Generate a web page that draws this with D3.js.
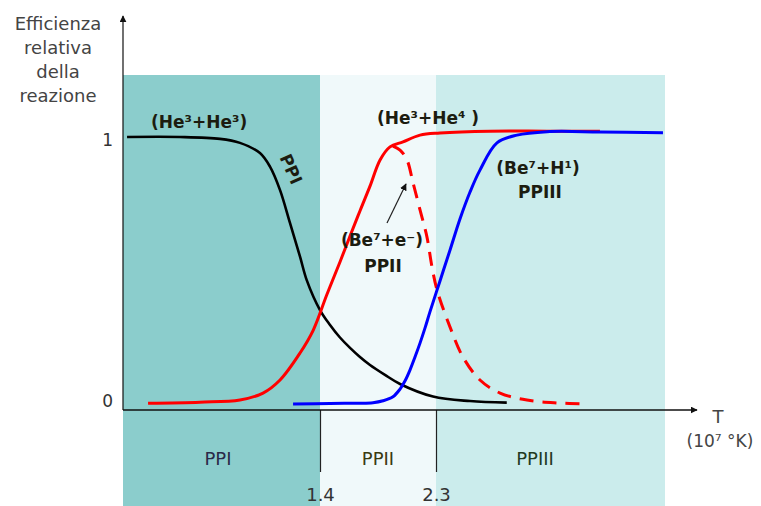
<!DOCTYPE html>
<html>
<head>
<meta charset="utf-8">
<script src="https://cdn.jsdelivr.net/npm/d3@7"></script>
<style>
    body { margin: 0; background: #fff; }
    text { font-family: "DejaVu Sans", Verdana, sans-serif; }
    .note { font-weight: bold; fill: #1c1c10; font-size: 17px; }
</style>
</head>
<body>
<div id="chart"></div>
<script>
// temperature bands (10^7 K)
const bandNames = ["PPI", "PPII", "PPIII"];
const bandLimits = [1.4, 2.3];

// PPI  (He3+He3)
const ppiT = [-0.097, 0.314, 0.624, 0.779, 0.934, 1.012, 1.090, 1.167, 1.245, 1.297, 1.400, 1.478, 1.555, 1.633, 1.710, 1.788, 1.904, 2.021, 2.277, 2.564, 2.849];
const ppiEff = [1.000, 1.000, 0.993, 0.978, 0.940, 0.889, 0.801, 0.678, 0.552, 0.464, 0.352, 0.296, 0.249, 0.210, 0.176, 0.146, 0.109, 0.075, 0.028, 0.011, 0.005];

// (He3+He4)
const he4T = [0.066, 0.469, 0.779, 0.958, 1.090, 1.245, 1.348, 1.452, 1.555, 1.633, 1.710, 1.788, 1.866, 1.943, 2.044, 2.176, 2.331, 2.719, 3.161, 3.572];
const he4Eff = [0.003, 0.007, 0.015, 0.041, 0.090, 0.191, 0.277, 0.408, 0.532, 0.629, 0.723, 0.816, 0.914, 0.963, 0.982, 1.007, 1.015, 1.022, 1.022, 1.022];

// PPII  (Be7+e-)
const ppiiT = [1.966, 2.021, 2.075, 2.122, 2.176, 2.230, 2.269, 2.308, 2.409, 2.509, 2.641, 2.797, 3.006, 3.239, 3.472];
const ppiiEff = [0.966, 0.951, 0.914, 0.828, 0.727, 0.625, 0.513, 0.427, 0.288, 0.176, 0.090, 0.041, 0.015, 0.004, 0.000];

// PPIII  (Be7+H1)
const ppiiiT = [1.191, 1.478, 1.811, 1.889, 1.966, 2.021, 2.059, 2.098, 2.137, 2.176, 2.215, 2.253, 2.331, 2.409, 2.486, 2.564, 2.641, 2.773, 2.928, 3.161, 3.572, 4.061];
const ppiiiEff = [0.000, 0.002, 0.005, 0.012, 0.027, 0.056, 0.086, 0.127, 0.176, 0.228, 0.285, 0.345, 0.461, 0.577, 0.693, 0.794, 0.876, 0.978, 1.007, 1.020, 1.019, 1.016];

const yTicks = [0, 1];
const yTitle = ["Efficienza", "relativa", "della", "reazione"];

const width = 761, height = 506;
const plotLeft = 123, plotRight = 665, plotTop = 75, axisY = 410;

const x = d3.scaleLinear().domain(bandLimits).range([320, 436]);
const y = d3.scaleLinear().domain([0, 1]).range([404, 137]);

const svg = d3.select("#chart").append("svg")
    .attr("width", width)
    .attr("height", height);

const defs = svg.append("defs");
defs.append("marker")
    .attr("id", "head")
    .attr("viewBox", "0 0 10 10")
    .attr("refX", 9).attr("refY", 5)
    .attr("markerWidth", 7).attr("markerHeight", 7)
    .attr("markerUnits", "userSpaceOnUse")
    .attr("orient", "auto")
    .append("path").attr("d", "M0,0L10,5L0,10Z").attr("fill", "#111");

// background bands
const edges = [x.invert(plotLeft), ...bandLimits, x.invert(plotRight)];
const bandColors = ["#8bcdcc", "#f0f9fa", "#cbecec"];
const bandLabelX = [x(bandLimits[0]) - 102, x(bandLimits[0]) + 58, x(bandLimits[1]) + 99];
const bandLabelColors = ["#2a2a48", "#3a3a10", "#223a22"];

svg.append("g").selectAll("rect")
    .data(bandNames)
    .enter().append("rect")
    .attr("x", (d, i) => x(edges[i]))
    .attr("y", plotTop)
    .attr("width", (d, i) => x(edges[i + 1]) - x(edges[i]))
    .attr("height", height - plotTop)
    .attr("fill", (d, i) => bandColors[i]);

svg.append("g").selectAll("text")
    .data(bandNames)
    .enter().append("text")
    .attr("x", (d, i) => bandLabelX[i])
    .attr("y", 465)
    .attr("text-anchor", "middle")
    .attr("font-size", 18)
    .attr("fill", (d, i) => bandLabelColors[i])
    .text(d => d);

// x axis ticks at band limits (long ticks below the axis)
const xAxis = svg.append("g")
    .attr("transform", `translate(0,${axisY})`)
    .call(d3.axisBottom(x).tickValues(bandLimits).tickSize(62).tickPadding(16).tickFormat(d3.format(".1f")));
xAxis.select(".domain").remove();
xAxis.selectAll("line").attr("stroke", "#222").attr("stroke-width", 1.2);
xAxis.selectAll("text")
    .attr("font-size", 18)
    .attr("fill", "#333")
    .attr("font-family", "DejaVu Sans, Verdana, sans-serif");

// axes with arrows
svg.append("line")
    .attr("x1", plotLeft).attr("y1", axisY)
    .attr("x2", 697).attr("y2", axisY)
    .attr("stroke", "#111").attr("stroke-width", 1.3)
    .attr("marker-end", "url(#head)");
svg.append("line")
    .attr("x1", plotLeft).attr("y1", axisY)
    .attr("x2", plotLeft).attr("y2", 16)
    .attr("stroke", "#111").attr("stroke-width", 1.2)
    .attr("marker-end", "url(#head)");

// y labels
svg.append("g").selectAll("text")
    .data(yTicks)
    .enter().append("text")
    .attr("x", 113)
    .attr("y", d => y(d) + (d === 1 ? 3 : -3))
    .attr("dy", "0.35em")
    .attr("text-anchor", "end")
    .attr("font-size", 17)
    .attr("fill", "#333")
    .text(d => d);

svg.append("text")
    .attr("text-anchor", "middle")
    .attr("font-size", 18)
    .attr("fill", "#444")
    .selectAll("tspan")
    .data(yTitle)
    .enter().append("tspan")
    .attr("x", 58)
    .attr("y", (d, i) => 30 + i * 24)
    .text(d => d);

svg.append("text")
    .attr("x", 718).attr("y", 423)
    .attr("text-anchor", "middle")
    .attr("font-size", 18)
    .attr("fill", "#444")
    .text("T");
svg.append("text")
    .attr("x", 720).attr("y", 447)
    .attr("text-anchor", "middle")
    .attr("font-size", 17)
    .attr("fill", "#444")
    .text("(10\u2077 \u00b0K)");

// curves
const line = d3.line()
    .x(d => x(d[0]))
    .y(d => y(d[1]))
    .curve(d3.curveCatmullRom.alpha(0.5));

const curves = [
    { t: ppiT, e: ppiEff, color: "#000", w: 2.6, dash: null },
    { t: he4T, e: he4Eff, color: "#ff0000", w: 3, dash: null },
    { t: ppiiT, e: ppiiEff, color: "#ff0000", w: 3, dash: "14,9" },
    { t: ppiiiT, e: ppiiiEff, color: "#0000ff", w: 3, dash: null }
];

svg.append("g").attr("fill", "none")
    .selectAll("path")
    .data(curves)
    .enter().append("path")
    .attr("d", d => line(d.t.map((t, i) => [t, d.e[i]])))
    .attr("stroke", d => d.color)
    .attr("stroke-width", d => d.w)
    .attr("stroke-dasharray", d => d.dash);

// annotations
const notes = svg.append("g").attr("class", "notes");
notes.append("text").attr("class", "note")
    .attr("x", 151).attr("y", 128)
    .text("(He\u00b3+He\u00b3)");
notes.append("text").attr("class", "note")
    .attr("x", 377).attr("y", 124)
    .text("(He\u00b3+He\u2074 )");
notes.append("text").attr("class", "note")
    .attr("x", 382).attr("y", 246)
    .attr("text-anchor", "middle")
    .text("(Be\u2077+e\u207b)");
notes.append("text").attr("class", "note")
    .attr("x", 383).attr("y", 272)
    .attr("text-anchor", "middle")
    .text("PPII");
notes.append("text").attr("class", "note")
    .attr("x", 538).attr("y", 174)
    .attr("text-anchor", "middle")
    .text("(Be\u2077+H\u00b9)");
notes.append("text").attr("class", "note")
    .attr("x", 540).attr("y", 198)
    .attr("text-anchor", "middle")
    .text("PPIII");
notes.append("text").attr("class", "note")
    .attr("transform", "translate(291,169) rotate(66)")
    .attr("text-anchor", "middle")
    .attr("dy", "0.35em")
    .text("PPI");

notes.append("line")
    .attr("x1", 387).attr("y1", 223)
    .attr("x2", 406).attr("y2", 184)
    .attr("stroke", "#222").attr("stroke-width", 1.2)
    .attr("marker-end", "url(#head)");
</script>
</body>
</html>
